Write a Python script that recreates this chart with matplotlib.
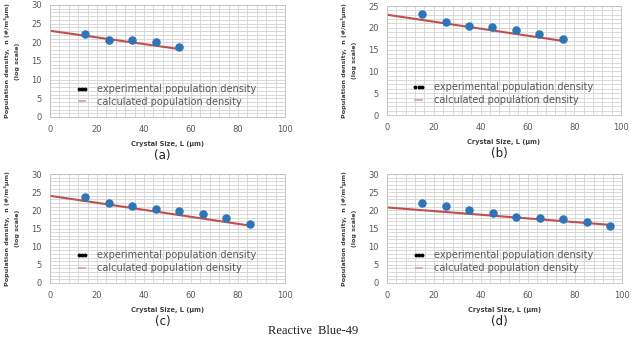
import numpy as np
import matplotlib.pyplot as plt
from matplotlib.lines import Line2D

# data
xa = [15, 25, 35, 45, 55]
ya = [22.2, 20.7, 20.7, 20.0, 18.8]
la_x = [0, 55]
la_y = [23.1, 18.2]

xb = [15, 25, 35, 45, 55, 65, 75]
yb = [23.1, 21.4, 20.4, 20.1, 19.5, 18.6, 17.5]
lb_x = [0, 75]
lb_y = [23.0, 17.0]

xc = [15, 25, 35, 45, 55, 65, 75, 85]
yc = [23.6, 22.1, 21.3, 20.4, 19.7, 19.1, 18.0, 16.2]
lc_x = [0, 85]
lc_y = [24.0, 15.8]

xd = [15, 25, 35, 45, 55, 65, 75, 85, 95]
yd = [22.1, 21.1, 20.2, 19.3, 18.2, 17.9, 17.5, 16.8, 15.7]
ld_x = [0, 95]
ld_y = [20.8, 16.0]

panels = [
    ("(a)", xa, ya, la_x, la_y, 30, [50, 5, 235, 112]),
    ("(b)", xb, yb, lb_x, lb_y, 25, [387, 6, 234, 109]),
    ("(c)", xc, yc, lc_x, lc_y, 30, [50, 174, 235, 109]),
    ("(d)", xd, yd, ld_x, ld_y, 30, [387, 174, 235, 109]),
]

W, H = 633, 338
fig = plt.figure(figsize=(W / 100, H / 100), dpi=100)

gray = "#595959"
for tag, x, y, lx, ly, ymax, (px, py, pw, ph) in panels:
    ax = fig.add_axes([px / W, 1 - (py + ph) / H, pw / W, ph / H])
    ax.set_xlim(0, 100)
    ax.set_ylim(0, ymax)
    ax.set_xticks(np.arange(0, 101, 20))
    ax.set_yticks(np.arange(0, ymax + 1, 5))
    ax.set_xticks(np.arange(0, 101, 4), minor=True)
    ax.set_yticks(np.arange(0, ymax + 1, 1), minor=True)
    ax.grid(which="both", color="#d3d3d3", lw=0.6)
    ax.set_axisbelow(True)
    ax.tick_params(which="both", length=0, labelsize=6, labelcolor=gray, pad=6)
    for s in ax.spines.values():
        s.set_color("#bfbfbf")
        s.set_linewidth(0.6)

    ax.plot(lx, ly, color="#c0504d", lw=1.5)
    ax.scatter(x, y, s=26, color="#2e75b6", zorder=3)

    # dotted "•••" handle for the measured points, thin pink line for the fit
    hnd = [Line2D([], [], ls="none", marker="o", ms=1.8, color="black"),
           Line2D([], [], color="#e39a9a", lw=1.2)]
    ax.legend(hnd, ["experimental population density", "calculated population density"],
              loc="lower left", bbox_to_anchor=(0.08, 0.03), numpoints=3,
              frameon=False, fontsize=7, labelcolor=gray, handlelength=1.3,
              handletextpad=0.9, borderpad=0.2, labelspacing=0.25)

    ax.set_xlabel("Crystal Size, L (\u03bcm)", fontsize=4.8, fontweight="bold",
                  color="#404040", labelpad=5)
    ax.set_ylabel("Population density,  n (#/m\u00b3\u03bcm)\n(log scale)", fontsize=4.6,
                  fontweight="bold", color="#404040", labelpad=8, linespacing=2.2)
    fig.text((px + pw / 2 - 5) / W, 1 - (py + ph + 38) / H, tag, ha="center",
             va="center", fontsize=8.5, color="#202020")

fig.text(313 / W, 1 / H, "Reactive  Blue-49", ha="center", va="bottom",
         fontsize=9, family="Liberation Serif", color="#202020")

fig.savefig("out.png", dpi=100)
